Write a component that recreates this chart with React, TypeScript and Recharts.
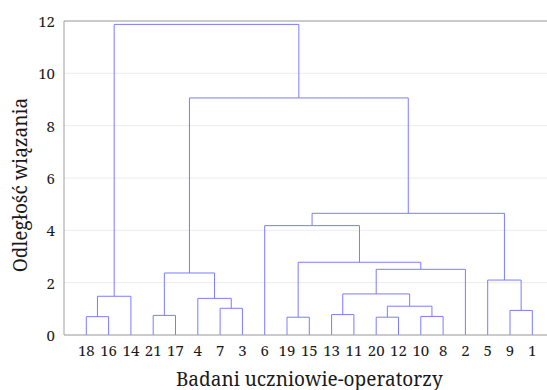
import { LineChart, Line, XAxis, YAxis, CartesianGrid, Label } from 'recharts';

// Leaves in the order they sit along the axis
const leafOrder = ['18', '16', '14', '21', '17', '4', '7', '3', '6', '19', '15', '13', '11', '20', '12', '10', '8', '2', '5', '9', '1'];

// Agglomeration steps: joined clusters (leaf label or step id "cN") and link distance
const mergeLeft = ['18', 'c0', '21', '7', '4', 'c2', '19', '13', '20', '10', 'c8', 'c7', 'c11', 'c6', '6', '9', '5', 'c14', 'c5', 'c1'];
const mergeRight = ['16', '14', '17', '3', 'c3', 'c4', '15', '11', '12', '8', 'c9', 'c10', '2', 'c12', 'c13', '1', 'c15', 'c16', 'c17', 'c18'];
const mergeHeight = [0.7, 1.48, 0.75, 1.02, 1.4, 2.37, 0.68, 0.78, 0.68, 0.71, 1.1, 1.57, 2.51, 2.78, 4.18, 0.94, 2.1, 4.65, 9.06, 11.87];

const yTicks = [0, 2, 4, 6, 8, 10, 12];
const yMinorTicks = [0, 1, 2, 3, 4, 5, 6, 7, 8, 9, 10, 11, 12];
const leafTicks = leafOrder.map((_, i) => i + 1);

const AXIS = '#a0a0a0';
const LINK = '#7c7cff';
const TEXT = '#1a1a1a';
const FONT = 'Noto Serif';

// each link is a bracket: up from left child, across, down to right child
const buildLinks = () => {
    const pos: Record<string, { x: number; h: number }> = {};
    leafOrder.forEach((l, i) => {
        pos[l] = { x: i + 1, h: 0 };
    });
    return mergeHeight.map((h, i) => {
        const a = pos[mergeLeft[i]];
        const b = pos[mergeRight[i]];
        pos['c' + i] = { x: (a.x + b.x) / 2, h };
        return [
            { x: a.x, y: a.h },
            { x: a.x, y: h },
            { x: b.x, y: h },
            { x: b.x, y: b.h },
        ];
    });
};

const LeafTick = ({ x, y, payload }: any) => (
    <text x={x} y={y} dy={12} textAnchor="middle" fontFamily={FONT} fontSize={15} fill={TEXT}>
        {leafOrder[payload.value - 1]}
    </text>
);

const DistTick = ({ x, y, payload }: any) => (
    <text x={x} y={y} dy={6} textAnchor="end" fontFamily={FONT} fontSize={15} fill={TEXT}>
        {payload.value}
    </text>
);

const XTitle = ({ viewBox }: any) => (
    <text x={viewBox.x + viewBox.width / 2} y={viewBox.y + viewBox.height - 4} textAnchor="middle" fontFamily={FONT} fontSize={19} fill={TEXT}>
        Badani uczniowie-operatorzy
    </text>
);

const YTitle = ({ viewBox }: any) => {
    const cx = 20;
    const cy = viewBox.y + viewBox.height / 2 + 7;
    return (
        <text x={cx} y={cy} dy={7} transform={`rotate(-90 ${cx} ${cy})`} textAnchor="middle" fontFamily={FONT} fontSize={19} fill={TEXT}>
            Odległość wiązania
        </text>
    );
};

export default function App() {
    const links = buildLinks();

    return (
        <div style={{ position: 'absolute', left: 0, top: 0, width: 547, height: 390, overflow: 'hidden', background: '#fff' }}>
            <LineChart width={560} height={390} margin={{ top: 21, right: 5.4, bottom: 0, left: 0 }}>
                <CartesianGrid vertical={false} stroke="#ececec" />
                <XAxis
                    dataKey="x"
                    type="number"
                    domain={[0, 22]}
                    ticks={leafTicks}
                    interval={0}
                    height={55}
                    tickLine={false}
                    tickSize={0}
                    tickMargin={9}
                    axisLine={{ stroke: AXIS }}
                    tick={<LeafTick />}
                >
                    <Label content={<XTitle />} />
                </XAxis>
                <XAxis
                    xAxisId="top"
                    orientation="top"
                    type="number"
                    domain={[0, 22]}
                    ticks={leafTicks}
                    mirror
                    tick={false}
                    tickSize={3}
                    tickLine={{ stroke: AXIS }}
                    axisLine={{ stroke: AXIS }}
                />
                <YAxis
                    type="number"
                    domain={[0, 12]}
                    ticks={yTicks}
                    width={64}
                    tickLine={false}
                    tickSize={0}
                    tickMargin={9}
                    axisLine={{ stroke: AXIS }}
                    tick={<DistTick />}
                >
                    <Label content={<YTitle />} />
                </YAxis>
                <YAxis
                    yAxisId="minor"
                    type="number"
                    domain={[0, 12]}
                    ticks={yMinorTicks}
                    mirror
                    tick={false}
                    tickSize={3}
                    axisLine={false}
                    tickLine={{ stroke: AXIS }}
                />
                {links.map((pts, i) => (
                    <Line
                        key={i}
                        data={pts}
                        dataKey="y"
                        type="linear"
                        stroke={LINK}
                        strokeWidth={1}
                        dot={false}
                        activeDot={false}
                        isAnimationActive={false}
                    />
                ))}
            </LineChart>
        </div>
    );
}
